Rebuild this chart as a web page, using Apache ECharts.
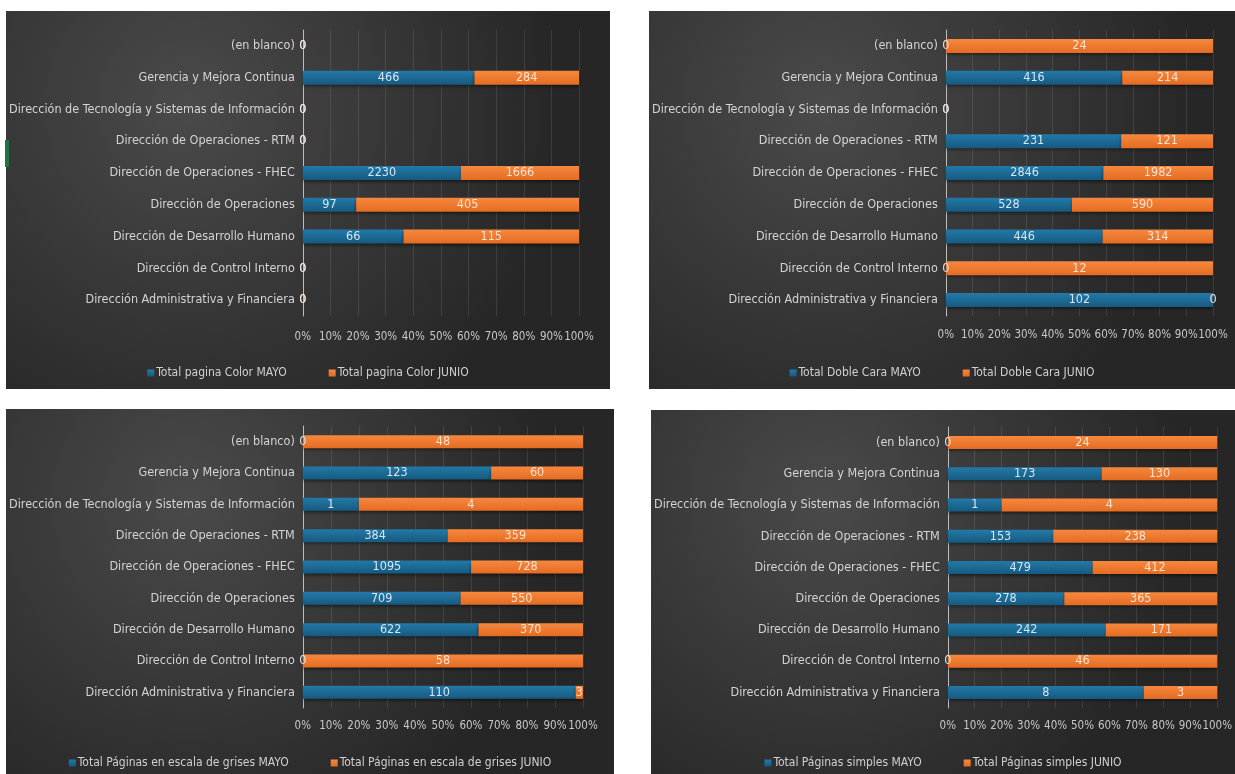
<!DOCTYPE html>
<html>
<head>
<meta charset="utf-8">
<script src="https://cdn.jsdelivr.net/npm/echarts@6/dist/echarts.min.js"></script>
<style>
  html, body { margin: 0; padding: 0; background: #ffffff; width: 1235px; height: 774px; overflow: hidden; }
  .panel { position: absolute; }
  #mark { position: absolute; left: 5px; top: 140px; width: 4px; height: 27px; background: #217346; }
</style>
</head>
<body>
<div id="p1" class="panel" style="left:6px;top:11px;width:604px;height:378px;"></div>
<div id="p2" class="panel" style="left:649px;top:11px;width:586px;height:378px;"></div>
<div id="p3" class="panel" style="left:6px;top:409px;width:608px;height:365px;"></div>
<div id="p4" class="panel" style="left:651px;top:410px;width:584px;height:364px;"></div>
<div id="mark"></div>
<script>
// Categories (bottom to top, as drawn)
const categories = [
  'Dirección Administrativa y Financiera',
  'Dirección de Control Interno',
  'Dirección de Desarrollo Humano',
  'Dirección de Operaciones',
  'Dirección de Operaciones - FHEC',
  'Dirección de Operaciones - RTM',
  'Dirección de Tecnología y Sistemas de Información',
  'Gerencia y Mejora Continua',
  '(en blanco)'
];
const xTicks = [0, 10, 20, 30, 40, 50, 60, 70, 80, 90, 100];

// Panel 1: color pages
const colorMayo  = [0, 0, 66, 97, 2230, 0, 0, 466, 0];
const colorJunio = [0, 0, 115, 405, 1666, 0, 0, 284, 0];
// Panel 2: double-sided
const dobleMayo  = [102, 0, 446, 528, 2846, 231, 0, 416, 0];
const dobleJunio = [0, 12, 314, 590, 1982, 121, 0, 214, 24];
// Panel 3: grayscale pages
const grisMayo   = [110, 0, 622, 709, 1095, 384, 1, 123, 0];
const grisJunio  = [3, 58, 370, 550, 728, 359, 4, 60, 48];
// Panel 4: simple pages
const simpleMayo  = [8, 0, 242, 278, 479, 153, 1, 173, 0];
const simpleJunio = [3, 46, 171, 365, 412, 238, 4, 130, 24];

const FONT = "'Liberation Sans Narrow', 'Arial Narrow', 'DejaVu Sans Condensed', sans-serif";
const BLUE = { type: 'linear', x: 0, y: 0, x2: 0, y2: 1, colorStops: [{ offset: 0, color: '#2379a8' }, { offset: 1, color: '#165a80' }] };
const ORANGE = { type: 'linear', x: 0, y: 0, x2: 0, y2: 1, colorStops: [{ offset: 0, color: '#f6883e' }, { offset: 1, color: '#e46c22' }] };
const BG = { type: 'radial', x: 0.3, y: 0.25, r: 1.0, colorStops: [{ offset: 0, color: '#4a4a4a' }, { offset: 1, color: '#262626' }] };

function pct(a, b) {
  return a.map((v, i) => { const t = v + b[i]; return t === 0 ? 0 : v / t * 100; });
}

function build(el, names, mayo, junio, L) {
  const chart = echarts.init(document.getElementById(el), null, { renderer: 'canvas' });
  const pm = pct(mayo, junio), pj = pct(junio, mayo);
  const mk = (name, vals, raw, color, labelColor) => ({
    name: name, type: 'bar', stack: 'total', barWidth: L.barWidth,
    data: vals,
    itemStyle: { color: color, shadowBlur: 3, shadowOffsetY: 2, shadowColor: 'rgba(0,0,0,0.5)' },
    label: {
      show: true, position: 'inside', color: labelColor, fontFamily: FONT, fontSize: 12.5,
      formatter: p => String(raw[p.dataIndex])
    },
    emphasis: { disabled: true }
  });
  chart.setOption({
    animation: false,
    backgroundColor: BG,
    textStyle: { fontFamily: FONT },
    legend: {
      data: names, left: L.legendLeft, top: L.legendTop, itemWidth: 7, itemHeight: 7, itemGap: 42,
      icon: 'rect',
      textStyle: { color: '#d0d0d0', fontFamily: FONT, fontSize: 12, padding: [0, 0, 0, -3] }
    },
    grid: { left: L.gl, top: L.gt, width: L.gw, height: L.gh, containLabel: false },
    xAxis: {
      type: 'value', min: 0, max: 100, interval: 10,
      axisLine: { show: false }, axisTick: { show: false },
      splitLine: { show: true, lineStyle: { color: 'rgba(255,255,255,0.10)', width: 1 } },
      axisLabel: { color: '#c8c8c8', fontFamily: FONT, fontSize: 11.5, margin: L.xm,
        showMinLabel: true, showMaxLabel: true, hideOverlap: false,
        formatter: v => xTicks.indexOf(v) >= 0 ? v + '%' : '' }
    },
    yAxis: {
      type: 'category', data: categories,
      axisLine: { show: true, lineStyle: { color: '#bdbdbd', width: 1 } },
      axisTick: { show: false },
      axisLabel: { color: '#d4d4d4', fontFamily: FONT, fontSize: 12.5, margin: 8 }
    },
    series: [
      mk(names[0], pm, mayo, BLUE, '#d6e6f2'),
      mk(names[1], pj, junio, ORANGE, '#fbe2d0')
    ]
  });
}

build('p1', ['Total pagina Color MAYO', 'Total pagina Color JUNIO'], colorMayo, colorJunio,
  { gl: 290, gt: 19, gw: 283, gh: 286, xm: 15, legendTop: 351, legendLeft: 'center', barWidth: 14 });
build('p2', ['Total Doble Cara MAYO', 'Total Doble Cara JUNIO'], dobleMayo, dobleJunio,
  { gl: 288, gt: 19, gw: 276, gh: 286, xm: 13, legendTop: 351, legendLeft: 'center', barWidth: 14 });
build('p3', ['Total Páginas en escala de grises MAYO', 'Total Páginas en escala de grises JUNIO'], grisMayo, grisJunio,
  { gl: 290, gt: 17, gw: 287, gh: 282, xm: 12, legendTop: 343, legendLeft: 'center', barWidth: 13 });
build('p4', ['Total Páginas simples MAYO', 'Total Páginas simples JUNIO'], simpleMayo, simpleJunio,
  { gl: 282, gt: 17, gw: 286, gh: 281, xm: 12, legendTop: 342, legendLeft: 'center', barWidth: 13 });
</script>
</body>
</html>
